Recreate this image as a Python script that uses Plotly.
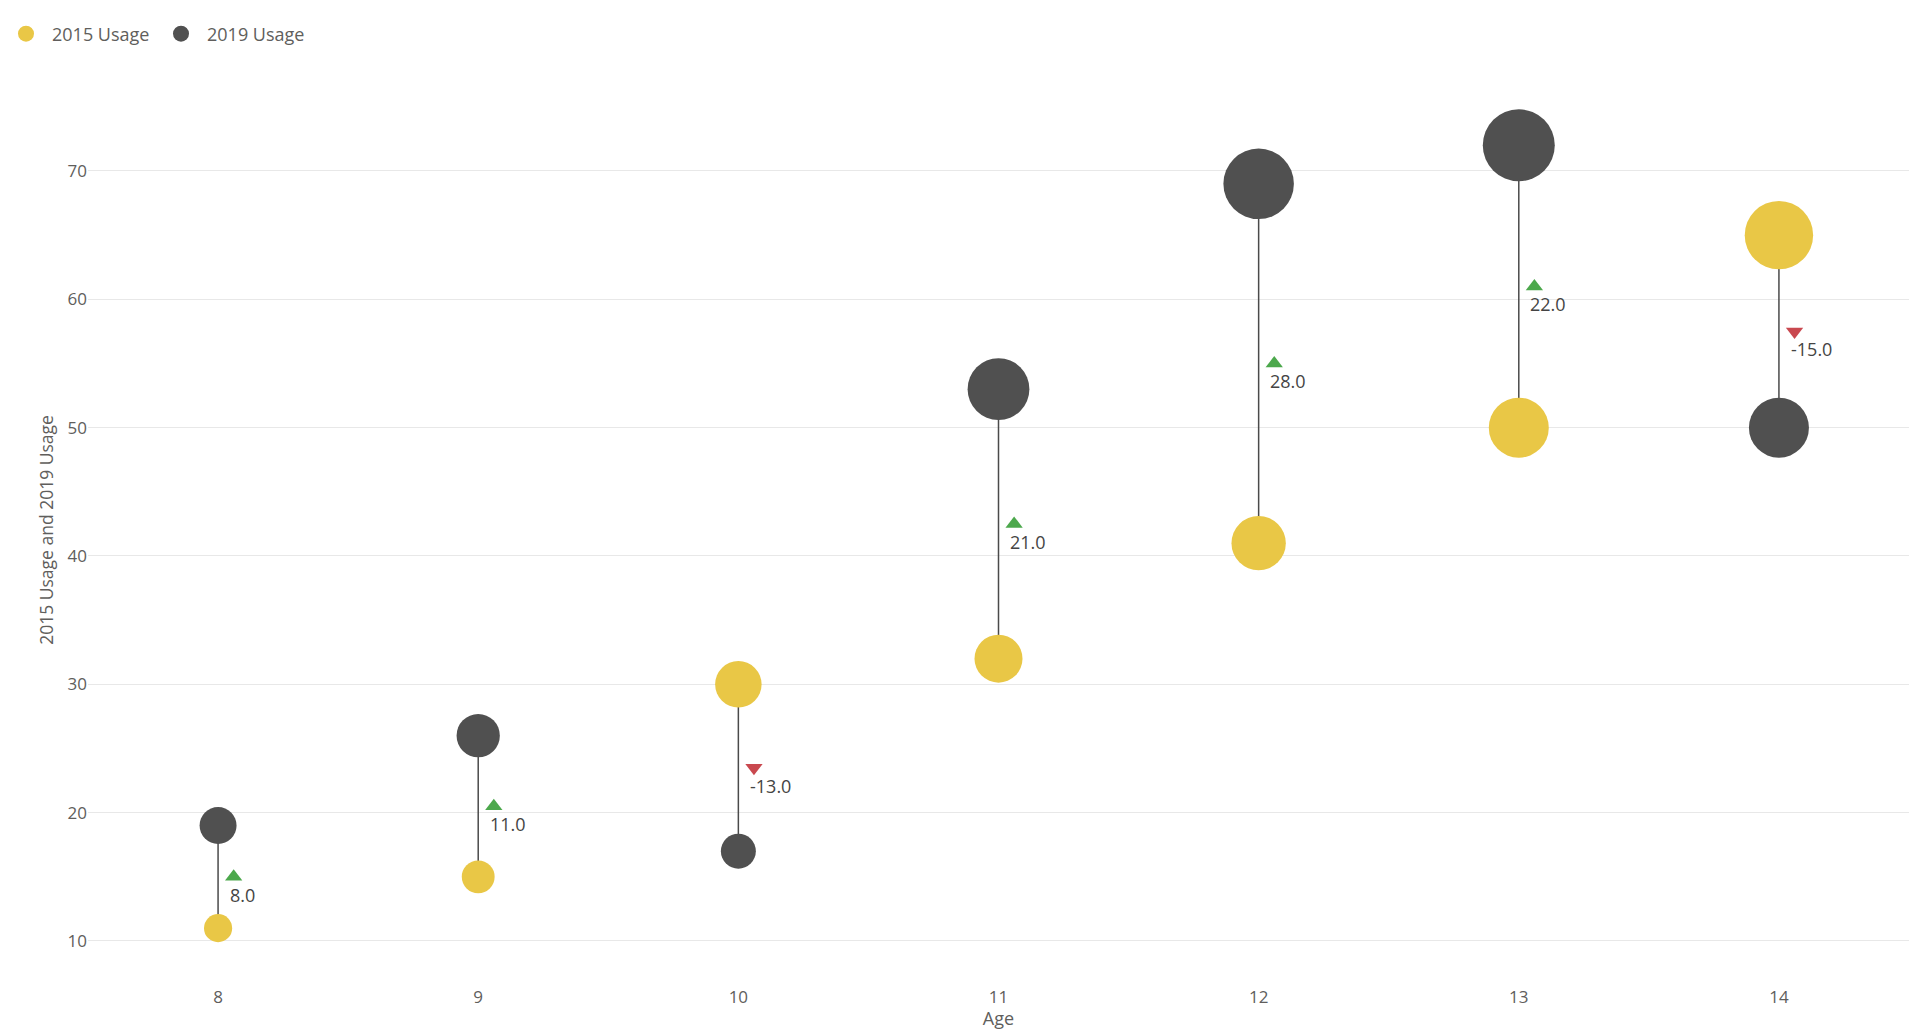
import plotly.graph_objects as go

ages = [8, 9, 10, 11, 12, 13, 14]
usage_2015 = [11, 15, 30, 32, 41, 50, 65]
usage_2019 = [19, 26, 17, 53, 69, 72, 50]
y_ticks = [10, 20, 30, 40, 50, 60, 70]

YELLOW = "#E9C746"
DARK = "#505050"
GREEN = "#4CA84C"
RED = "#C9484F"
TEXT = "#605E5C"
FONT = "Segoe UI, Open Sans, sans-serif"

deltas = [b - a for a, b in zip(usage_2015, usage_2019)]
mids = [(a + b) / 2 for a, b in zip(usage_2015, usage_2019)]

fig = go.Figure()

# connector lines
for x, a, b in zip(ages, usage_2015, usage_2019):
    fig.add_trace(go.Scatter(x=[x, x], y=[a, b], mode="lines",
                             line=dict(color="#4A4A4A", width=1.5),
                             showlegend=False, hoverinfo="skip"))

fig.add_trace(go.Scatter(x=ages, y=usage_2015, mode="markers", name="2015 Usage",
                         marker=dict(color=YELLOW, size=usage_2015, sizemode="area",
                                     sizeref=1 / 36, opacity=1, line=dict(width=0))))
fig.add_trace(go.Scatter(x=ages, y=usage_2019, mode="markers", name="2019 Usage",
                         marker=dict(color=DARK, size=usage_2019, sizemode="area",
                                     sizeref=1 / 36, opacity=1, line=dict(width=0))))

# delta triangles
offset = 0.06
fig.add_trace(go.Scatter(
    x=[a + offset for a in ages], y=mids, mode="markers", showlegend=False,
    hoverinfo="skip",
    marker=dict(symbol=["triangle-up" if d >= 0 else "triangle-down" for d in deltas],
                color=[GREEN if d >= 0 else RED for d in deltas], size=15, opacity=1,
                line=dict(width=0))))

for x, m, d in zip(ages, mids, deltas):
    fig.add_annotation(x=x + offset, y=m, text=f"{d:.1f}", showarrow=False,
                       xanchor="left", yanchor="middle", xshift=-6, yshift=-18,
                       font=dict(family=FONT, size=18, color="#444444"))

fig.update_layout(
    width=1918, height=1030,
    paper_bgcolor="white", plot_bgcolor="white",
    margin=dict(l=88, r=9, t=75, b=45),
    font=dict(family=FONT, size=17, color=TEXT),
    showlegend=True,
    legend=dict(orientation="h", xref="container", yref="container",
                x=0, xanchor="left", y=1 - 34 / 1030, yanchor="middle",
                itemwidth=42, entrywidth=98, entrywidthmode="pixels",
                font=dict(family=FONT, size=18, color=TEXT), bgcolor="rgba(0,0,0,0)"),
    xaxis=dict(range=[7.5, 14.5], tickvals=ages, showgrid=False, zeroline=False,
               showline=False, ticks="", automargin=False,
               title=dict(text="Age", standoff=2, font=dict(family=FONT, size=18, color=TEXT)),
               tickfont=dict(family=FONT, size=17, color=TEXT)),
    yaxis=dict(range=[6.57, 77.48], tickvals=y_ticks, showgrid=True, gridcolor="#E8E8E8",
               gridwidth=1, zeroline=False, showline=False, ticks="", automargin=False,
               title=dict(text="2015 Usage and 2019 Usage", standoff=9,
                          font=dict(family=FONT, size=17.5, color=TEXT)),
               tickfont=dict(family=FONT, size=17, color=TEXT)),
)

fig.write_html("out.html", config={"displayModeBar": False},
               post_script="document.body.style.margin='0';document.body.style.overflow='hidden';")
